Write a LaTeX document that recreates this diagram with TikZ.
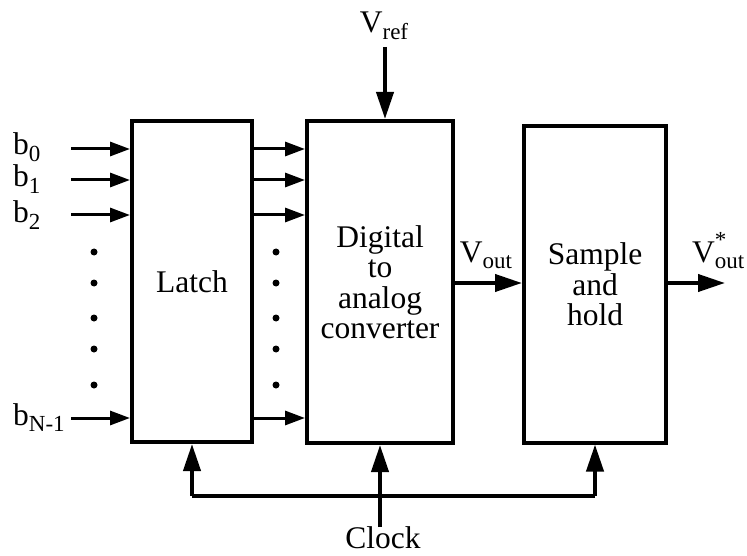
\documentclass[tikz,border=0pt]{standalone}
\usepackage{fontspec}
\setmainfont{Liberation Serif}
\usetikzlibrary{arrows.meta}
\newcommand\lowsub[1]{\raisebox{-0.22em}{\fontsize{23}{23}\selectfont #1}}
\newcommand\highsup[1]{\raisebox{0.45em}{\fontsize{23}{23}\selectfont #1}}
\begin{document}
\begin{tikzpicture}[x=1pt,y=-1pt,
  every node/.style={font=\fontsize{31.5}{30.5}\selectfont, inner sep=0pt},
  blockbox/.style={draw, line width=4pt, align=center},
  thinarr/.style={line width=3pt, -{Triangle[length=20pt,width=14pt]}},
  thickarr/.style={line width=4pt, -{Triangle[length=27pt,width=17pt]}},
  wire/.style={line width=4pt}]
\useasboundingbox (0,0) rectangle (747,556);
% blocks
\node[blockbox, minimum width=120pt, minimum height=321pt] (latch) at (192,281.5) {Latch};
\node[blockbox, minimum width=146pt, minimum height=322pt] (dac) at (380,282) {Digital\\to\\analog\\converter};
\node[blockbox, minimum width=142pt, minimum height=316pt] (sh) at (595,284.5) {Sample\\and\\hold};
% input labels
\node[anchor=base west] (lb0) at (13,155) {b\lowsub{0}};
\node[anchor=base west] (lb1) at (13,187) {b\lowsub{1}};
\node[anchor=base west] (lb2) at (13,223) {b\lowsub{2}};
\node[anchor=base west] (lbn) at (13,425) {b\lowsub{N-1}};
\coordinate (i0) at (71,149);
\coordinate (i1) at (71,180);
\coordinate (i2) at (71,215);
\coordinate (in) at (71,418);
\foreach \c in {i0,i1,i2,in}{
  \draw[thinarr] (\c) -- (latch.west |- \c);
  \draw[thinarr] (latch.east |- \c) -- (dac.west |- \c);
}
\foreach \y in {252,283,318,349,385}{
  \fill (94,\y) circle (3.5pt);
  \fill (276,\y) circle (3.5pt);
}
% Vref
\node[anchor=base] (vref) at (384,33) {V\lowsub{ref}};
\coordinate (vr) at (385,47);
\draw[thickarr] (vr) -- (dac.north -| vr);
% Vout
\coordinate (vo) at (453,283);
\draw[thickarr] (dac.east |- vo) -- (sh.west |- vo);
\node[anchor=base] (voutlbl) at (486,262) {V\lowsub{out}};
\coordinate (voe) at (725,283);
\draw[thickarr] (sh.east |- voe) -- (voe);
\node[anchor=base west] (vstar) at (692,262) {V\highsup{\rlap{*}}\lowsub{out}};
% clock
\node[anchor=base] (clock) at (383,548) {Clock};
\coordinate (clk) at (380,527);
\coordinate (busL) at (192,496);
\coordinate (busR) at (595,496);
\draw[wire] (busL) -- (busR);
\draw[thickarr] (busL) -- (latch.south);
\draw[thickarr] (busR) -- (sh.south);
\draw[thickarr] (clk) -- (dac.south);
\end{tikzpicture}
\end{document}
